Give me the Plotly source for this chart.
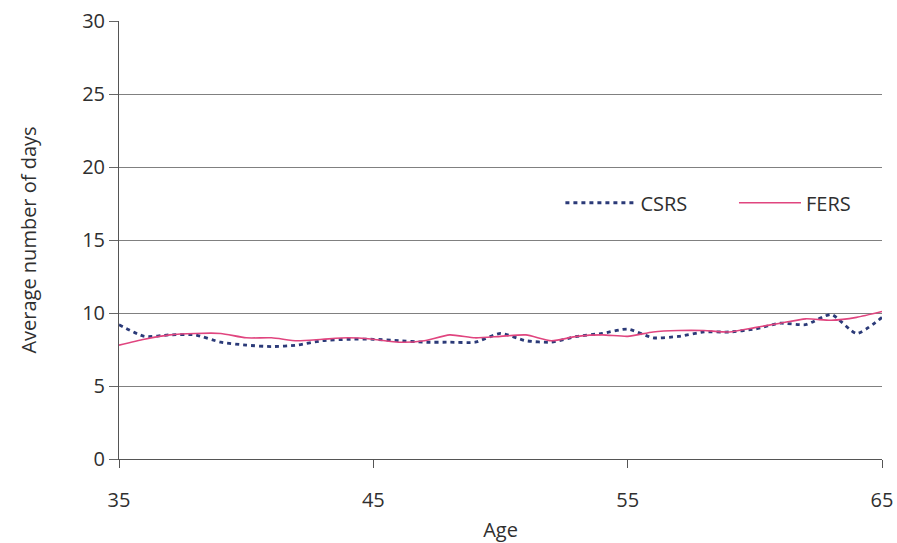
import plotly.graph_objects as go

# Average number of days by age, 35 to 65
ages = list(range(35, 66))
csrs = [9.2, 8.4, 8.5, 8.5, 8.0, 7.8, 7.7, 7.8, 8.1, 8.2, 8.2,
        8.1, 8.0, 8.0, 8.0, 8.6, 8.1, 8.0, 8.4, 8.6, 8.9,
        8.3, 8.4, 8.7, 8.7, 8.9, 9.3, 9.2, 9.9, 8.6, 9.7]
fers = [7.8, 8.2, 8.5, 8.6, 8.6, 8.3, 8.3, 8.1, 8.2, 8.3, 8.2,
        8.0, 8.1, 8.5, 8.3, 8.4, 8.5, 8.1, 8.4, 8.5, 8.4,
        8.7, 8.8, 8.8, 8.7, 9.0, 9.3, 9.6, 9.5, 9.7, 10.1]
x_ticks = [35, 45, 55, 65]
y_ticks = [0, 5, 10, 15, 20, 25, 30]

FONT = "Open Sans"
TEXT = "#2f2f2f"
FS = 20

fig = go.Figure()
fig.add_trace(go.Scatter(
    x=ages, y=csrs, name="CSRS", mode="lines", legend="legend",
    line=dict(color="#2b3a78", width=2.8, dash="4px,4px", shape="spline", smoothing=0.6),
))
fig.add_trace(go.Scatter(
    x=ages, y=fers, name="FERS", mode="lines", legend="legend2",
    line=dict(color="#e0457f", width=1.6, shape="spline", smoothing=0.6),
))

legend_common = dict(
    orientation="h", yanchor="middle", xanchor="left",
    bgcolor="rgba(0,0,0,0)",
    font=dict(family=FONT, size=FS, color=TEXT),
)

fig.update_layout(
    width=897, height=543,
    margin=dict(l=119, r=15, t=21, b=84),
    paper_bgcolor="white", plot_bgcolor="white",
    font=dict(family=FONT, size=FS, color=TEXT),
    showlegend=True,
    legend=dict(x=0.5785, y=0.585, itemwidth=70, **legend_common),
    legend2=dict(x=0.806, y=0.585, itemwidth=62, **legend_common),
    xaxis=dict(
        range=[35, 65], tickvals=x_ticks, ticks="outside", ticklen=8,
        tickcolor="#555", showgrid=False, zeroline=False,
        showline=True, linecolor="#555", linewidth=1,
        ticklabelstandoff=15, automargin=False,
        title=dict(text="Age", standoff=10, font=dict(size=FS)),
        tickfont=dict(size=FS),
    ),
    yaxis=dict(
        range=[0, 30], tickvals=y_ticks, ticks="outside", ticklen=9,
        tickcolor="#666", showgrid=True, gridcolor="#808080", gridwidth=1,
        zeroline=False, showline=True, linecolor="#555", linewidth=1,
        automargin=False,
        title=dict(text="Average number of days", standoff=40, font=dict(size=FS)),
        tickfont=dict(size=FS),
    ),
)

fig.write_html("out.html")
